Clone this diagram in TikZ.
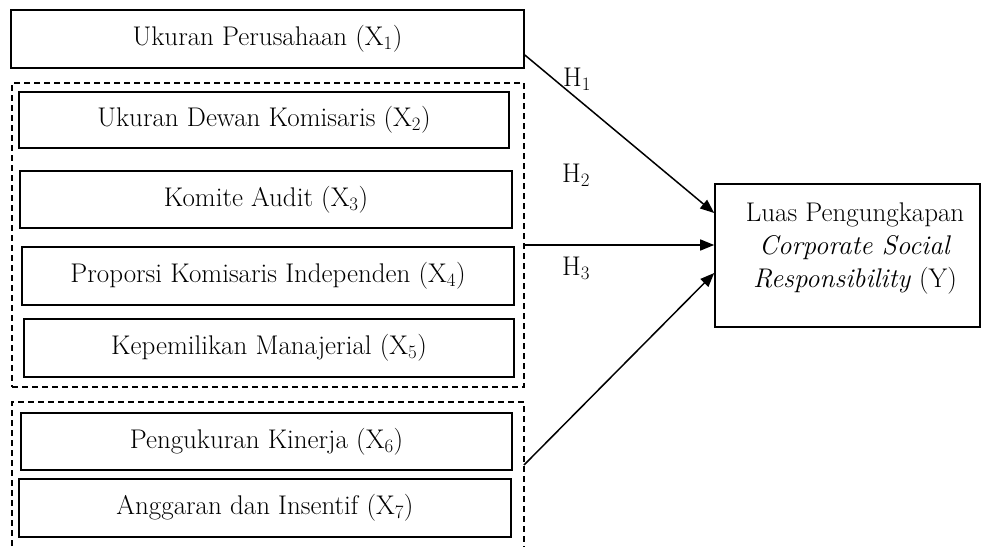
\documentclass[tikz,border=0pt]{standalone}
\usetikzlibrary{arrows.meta,calc}
\begin{document}
\begin{tikzpicture}[x=1pt,y=-1pt,
  box/.style={draw, line width=1.6pt, inner sep=0pt, font=\fontsize{27}{33}\selectfont},
  dashbox/.style={draw, dash pattern=on 6pt off 4pt, line width=1.1pt},
  conn/.style={line width=1.5pt, -{Triangle[length=14pt,width=11pt]}},
  lbl/.style={inner sep=0pt, font=\fontsize{27}{33}\selectfont},
  ytxt/.style={inner sep=0pt, align=center, font=\fontsize{27}{33}\selectfont}]
\useasboundingbox (0,0) rectangle (982,546);
% left column
\node[box, minimum width=513pt, minimum height=58pt] (x1) at (267.5,39) {Ukuran Perusahaan (X\textsubscript{1})};
\node[dashbox, minimum width=512pt, minimum height=304pt] (g1) at (268,235) {};
\node[box, minimum width=490pt, minimum height=56pt] (x2) at (264,120) {Ukuran Dewan Komisaris (X\textsubscript{2})};
\node[box, minimum width=492pt, minimum height=57pt] (x3) at (266,199.5) {Komite Audit (X\textsubscript{3})};
\node[box, minimum width=492pt, minimum height=58pt] (x4) at (268,276) {Proporsi Komisaris Independen (X\textsubscript{4})};
\node[box, minimum width=490pt, minimum height=58pt] (x5) at (269,348) {Kepemilikan Manajerial (X\textsubscript{5})};
\coordinate (g2bl) at (12,556);
\coordinate (g2tl) at (12,402);
\coordinate (g2tr) at (524,402);
\coordinate (g2br) at (524,556);
\draw[dashbox] (g2bl) -- (g2tl) -- (g2tr) -- (g2br);
\node[box, minimum width=491pt, minimum height=57pt] (x6) at (266.5,441.5) {Pengukuran Kinerja (X\textsubscript{6})};
\node[box, minimum width=492pt, minimum height=58pt] (x7) at (265,508) {Anggaran dan Insentif (X\textsubscript{7})};
% dependent
\node[box, minimum width=265pt, minimum height=143pt] (y) at (847.5,255.5) {};
\node[ytxt] (yt) at (855,249) {Luas Pengungkapan\\\textit{Corporate Social}\\\textit{Responsibility} (Y)};
% connectors
\coordinate (s1) at ($(x1.east)+(0,16)$);
\coordinate (s2) at ($(g1.east)+(0,10)$);
\coordinate (s3) at (524,465);
\draw[conn] (s1) -- ($(y.west)+(0,-42.5)$);
\draw[conn] (s2) -- ($(y.west)+(0,-10.5)$);
\draw[conn] (s3) -- ($(y.west)+(0,17.5)$);
% labels
\node[lbl] (h1) at (577,79) {H\textsubscript{1}};
\node[lbl] (h2) at (576,175) {H\textsubscript{2}};
\node[lbl] (h3) at (576,268) {H\textsubscript{3}};
\end{tikzpicture}
\end{document}
